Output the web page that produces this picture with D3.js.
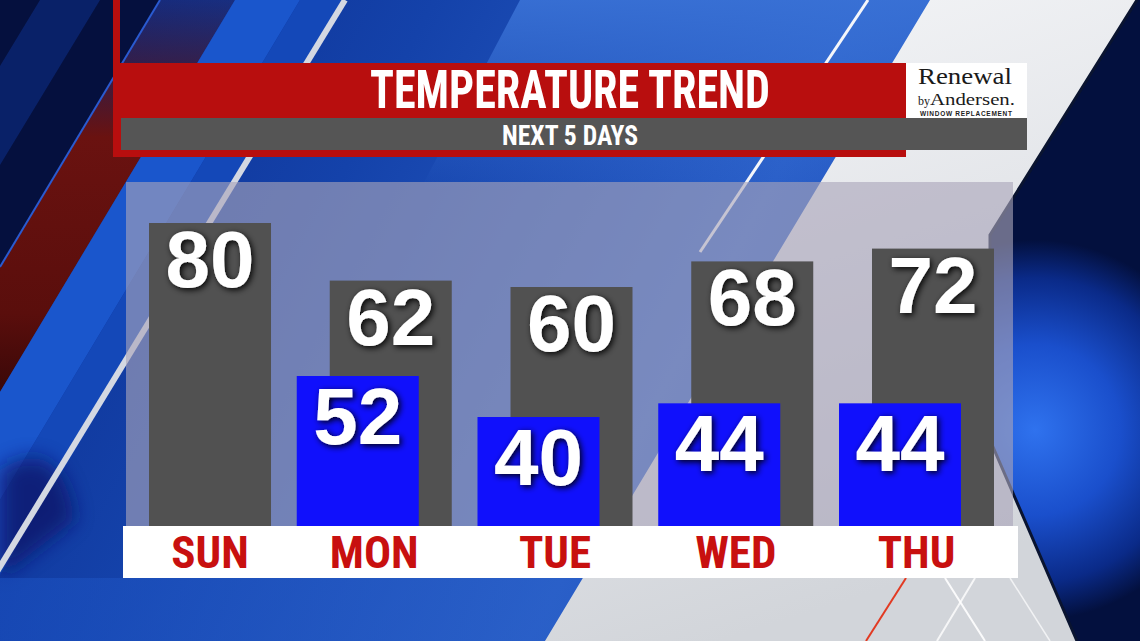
<!DOCTYPE html>
<html><head><meta charset="utf-8">
<script src="https://cdn.jsdelivr.net/npm/d3@7"></script>
<style>html,body{margin:0;padding:0;background:#0a2a90;overflow:hidden}</style>
</head><body>
<svg id="c" width="1140" height="641"></svg>
<script>
const days = ["SUN","MON","TUE","WED","THU"];
const highs = [80, 62, 60, 68, 72];
const lows = [null, 52, 40, 44, 44];
const titleText = "TEMPERATURE TREND";
const subtitleText = "NEXT 5 DAYS";
const logoLines = ["Renewal", "by", "Andersen.", "WINDOW  REPLACEMENT"];

const W = 1140, H = 641;
const svg = d3.select("#c");
const defs = svg.append("defs");

function lin(id, x1, y1, x2, y2, stops) {
  const g = defs.append("linearGradient").attr("id", id)
    .attr("x1", x1).attr("y1", y1).attr("x2", x2).attr("y2", y2);
  stops.forEach(s => g.append("stop").attr("offset", s[0]).attr("stop-color", s[1]).attr("stop-opacity", s[2] == null ? 1 : s[2]));
}
lin("bgGrad", 0, 0, 1, 0.3, [[0, "#0b2b8c"], [0.35, "#1442aa"], [0.7, "#2a5fc8"], [1, "#1a4ab8"]]);
lin("topGlow", 0, 0, 0, 1, [[0, "#3a72d6", 0.9], [1, "#3a72d6", 0]]);
lin("redBand", 0, 0, 0, 1, [[0, "#3a0a10", 0.2], [0.35, "#6a1210", 1], [0.8, "#5a0e0c", 1], [1, "#3a0808", 1]]);
lin("whiteReg", 0, 0, 0.3, 1, [[0, "#f6f7f9"], [0.5, "#e4e6ea"], [1, "#d2d5da"]]);
lin("botBlue", 0, 0, 1, 0, [[0, "#1a4fbf"], [1, "#2a60c8"]]);
const rg = defs.append("radialGradient").attr("id", "cloud")
  .attr("gradientUnits", "userSpaceOnUse").attr("cx", 1035).attr("cy", 430).attr("r", 190);
[[0, "#2f72ee"], [0.45, "#1a4fcc"], [0.8, "#0a2a88"], [1, "#03103e"]].forEach(s => rg.append("stop").attr("offset", s[0]).attr("stop-color", s[1]));

const blur = defs.append("filter").attr("id", "blur").attr("x", "-50%").attr("y", "-50%").attr("width", "200%").attr("height", "200%");
blur.append("feGaussianBlur").attr("stdDeviation", 10);
const sh = defs.append("filter").attr("id", "shadow").attr("x", "-30%").attr("y", "-30%").attr("width", "160%").attr("height", "160%");
sh.append("feDropShadow").attr("dx", 2).attr("dy", 2).attr("stdDeviation", 3).attr("flood-color", "#000").attr("flood-opacity", 0.95);

// ---------- background ----------
const bg = svg.append("g");
bg.append("rect").attr("width", W).attr("height", H).attr("fill", "url(#bgGrad)");
bg.append("polygon").attr("points", "520,0 935,0 820,190 420,190").attr("fill", "url(#topGlow)");
// dark top-left
bg.append("polygon").attr("points", "0,0 160,0 0,267").attr("fill", "#05103e");
bg.append("polygon").attr("points", "40,0 100,0 0,165 0,66").attr("fill", "#0c2a7a").attr("opacity", 0.7);
// red band
bg.append("polygon").attr("points", "160,0 235,0 0,392 0,267").attr("fill", "url(#redBand)");
bg.append("line").attr("x1", 160).attr("y1", 0).attr("x2", 0).attr("y2", 267).attr("stroke", "#2a5ad0").attr("stroke-width", 2);
// bright blue band
bg.append("polygon").attr("points", "235,0 300,0 0,500 0,392").attr("fill", "#1a56cc");
bg.append("polygon").attr("points", "300,0 345,0 0,575 0,500").attr("fill", "#1448b8");
// dark patch bottom-left below the white streak
bg.append("path").attr("d", "M0,470 Q60,430 75,520 L10,570 L0,575 Z").attr("fill", "#08196a").attr("filter", "url(#blur)").attr("opacity", 0.8);
// bottom blue
bg.append("rect").attr("x", 0).attr("y", 578).attr("width", 560).attr("height", 63).attr("fill", "url(#botBlue)").attr("opacity", 0.6);
// white region
bg.append("polygon").attr("points", "930,0 1137,0 990,235 990,440 1077,641 545,641").attr("fill", "url(#whiteReg)");
// dark cloudy chevron
bg.append("polygon").attr("points", "1137,0 1140,0 1140,641 1077,641 990,440 990,235").attr("fill", "url(#cloud)");
bg.append("polyline").attr("points", "1137,0 990,235 990,440 1077,641").attr("fill", "none").attr("stroke", "#0a1430").attr("stroke-width", 3);
// streak lines
bg.append("line").attr("x1", 345).attr("y1", 0).attr("x2", -5).attr("y2", 575).attr("stroke", "#d4d8e2").attr("stroke-width", 6);
bg.append("line").attr("x1", 868).attr("y1", 0).attr("x2", 700).attr("y2", 252).attr("stroke", "#f4f6fa").attr("stroke-width", 3);
bg.append("line").attr("x1", 906).attr("y1", 578).attr("x2", 866).attr("y2", 641).attr("stroke", "#e23a22").attr("stroke-width", 2);
bg.append("line").attr("x1", 945).attr("y1", 578).attr("x2", 985).attr("y2", 641).attr("stroke", "#ffffff").attr("stroke-width", 2).attr("opacity", 0.9);
bg.append("line").attr("x1", 975).attr("y1", 578).attr("x2", 937).attr("y2", 641).attr("stroke", "#ffffff").attr("stroke-width", 2).attr("opacity", 0.8);
bg.append("line").attr("x1", 1010).attr("y1", 578).attr("x2", 1050).attr("y2", 641).attr("stroke", "#ffffff").attr("stroke-width", 1.5).attr("opacity", 0.7);

// ---------- header ----------
const hd = svg.append("g");
hd.append("rect").attr("x", 113).attr("y", 0).attr("width", 7).attr("height", 70).attr("fill", "#b80e0e");
hd.append("rect").attr("x", 113).attr("y", 63).attr("width", 793).attr("height", 94).attr("fill", "#b80e0e");
hd.append("rect").attr("x", 906).attr("y", 63).attr("width", 121).attr("height", 56).attr("fill", "#ffffff");
hd.append("rect").attr("x", 121).attr("y", 118).attr("width", 906).attr("height", 32).attr("fill", "#555555");
const condensed = "'Liberation Sans Narrow','Arial Narrow','Roboto Condensed',sans-serif";
hd.append("text").attr("x", 570).attr("y", 108).attr("text-anchor", "middle")
  .attr("font-family", condensed).attr("font-weight", "bold").attr("font-size", 53)
  .attr("textLength", 400).attr("lengthAdjust", "spacingAndGlyphs")
  .attr("fill", "#ffffff").text(titleText);
hd.append("text").attr("x", 570).attr("y", 145).attr("text-anchor", "middle")
  .attr("font-family", condensed).attr("font-weight", "bold").attr("font-size", 28)
  .attr("textLength", 136).attr("lengthAdjust", "spacingAndGlyphs")
  .attr("fill", "#ffffff").text(subtitleText);
// logo
const serif = "'Liberation Serif','DejaVu Serif',serif";
hd.append("text").attr("x", 918).attr("y", 84).attr("font-family", serif).attr("font-size", 23)
  .attr("textLength", 94).attr("lengthAdjust", "spacingAndGlyphs").attr("fill", "#1a1a1a").text(logoLines[0]);
hd.append("text").attr("x", 918).attr("y", 105).attr("font-family", serif).attr("font-size", 12)
  .attr("fill", "#1a1a1a").text(logoLines[1]);
hd.append("text").attr("x", 930).attr("y", 105).attr("font-family", serif).attr("font-size", 17)
  .attr("textLength", 85).attr("lengthAdjust", "spacingAndGlyphs").attr("fill", "#1a1a1a").text(logoLines[2]);
hd.append("text").attr("x", 920).attr("y", 116).attr("font-family", "'Liberation Sans',sans-serif").attr("font-weight", "bold")
  .attr("font-size", 6.5).attr("textLength", 92).attr("lengthAdjust", "spacing").attr("fill", "#222").text(logoLines[3]);

// ---------- chart ----------
const base = 526;
const x = d3.scaleBand().domain(days).range([149, 994]).paddingInner(0.325).paddingOuter(0);
const yHigh = d3.scaleLinear().domain([60, 80]).range([287, 223]);
const yLow = d3.scaleLinear().domain([40, 52]).range([417, 376]);
const lowShift = -33;

const data = days.map((d, i) => ({day: d, hi: highs[i], lo: lows[i]}));

svg.append("rect").attr("x", 126).attr("y", 182).attr("width", 887).attr("height", 344)
  .attr("fill", "#a9a5b9").attr("opacity", 0.62);

const g = svg.append("g");
g.selectAll("rect.hi").data(data).join("rect").attr("class", "hi")
  .attr("x", d => x(d.day)).attr("y", d => yHigh(d.hi))
  .attr("width", x.bandwidth()).attr("height", d => base - yHigh(d.hi))
  .attr("fill", "#515151");
const lowData = data.filter(d => d.lo != null);
g.selectAll("rect.lo").data(lowData).join("rect").attr("class", "lo")
  .attr("x", d => x(d.day) + lowShift).attr("y", d => yLow(d.lo))
  .attr("width", x.bandwidth()).attr("height", d => base - yLow(d.lo))
  .attr("fill", "#1010fc");

const numFont = "'Liberation Sans',Arial,sans-serif";
g.selectAll("text.hiv").data(data).join("text").attr("class", "hiv")
  .attr("x", d => x(d.day) + x.bandwidth() / 2).attr("y", d => yHigh(d.hi) + 64)
  .attr("text-anchor", "middle").attr("font-family", numFont).attr("font-weight", "bold")
  .attr("font-size", 80).attr("fill", "#ffffff").attr("filter", "url(#shadow)")
  .text(d => d.hi);
g.selectAll("text.lov").data(lowData).join("text").attr("class", "lov")
  .attr("x", d => x(d.day) + lowShift + x.bandwidth() / 2).attr("y", d => yLow(d.lo) + 68)
  .attr("text-anchor", "middle").attr("font-family", numFont).attr("font-weight", "bold")
  .attr("font-size", 80).attr("fill", "#ffffff").attr("filter", "url(#shadow)")
  .text(d => d.lo);

// day label strip
svg.append("rect").attr("x", 123).attr("y", base).attr("width", 895).attr("height", 52).attr("fill", "#ffffff");
svg.selectAll("text.day").data(data).join("text").attr("class", "day")
  .attr("x", d => {
    const l = d.lo != null ? x(d.day) + lowShift : x(d.day);
    return (l + x(d.day) + x.bandwidth()) / 2;
  })
  .attr("y", 568).attr("text-anchor", "middle")
  .attr("font-family", condensed).attr("font-weight", "bold").attr("font-size", 45)
  .attr("fill", "#c8100f").text(d => d.day);
</script>
</body></html>
